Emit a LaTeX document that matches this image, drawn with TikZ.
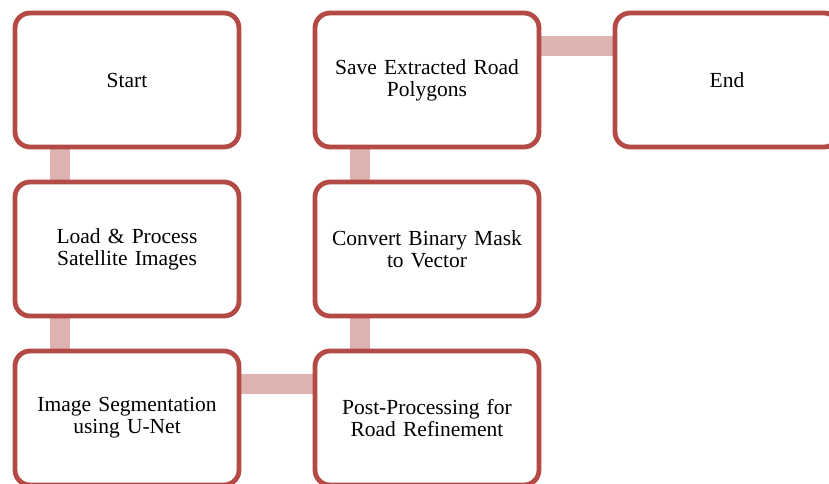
\documentclass[tikz,border=0pt]{standalone}
\usepackage{fontspec}
\setmainfont{Liberation Serif}
\usetikzlibrary{positioning, backgrounds}
\definecolor{boxred}{RGB}{180,74,69}
\definecolor{barpink}{RGB}{221,178,177}
\tikzset{node distance = 169pt and 300pt}
\tikzset{block/.style = {draw=boxred, line width=4.8pt, rounded corners=15pt, fill=white, minimum width=224pt, minimum height=134pt, text width=205pt, align=center, font=\fontsize{21.5pt}{22pt}\selectfont}}
\tikzset{link/.style = {draw=barpink, line width=20pt}}

\begin{document}
\begin{tikzpicture}[on grid]
			\useasboundingbox (-127pt,80pt) rectangle (702pt,-404pt);
			% Start
			\node [block] (start) {Start};
			% Load images
			\node [block, below= of start] (load) {Load \& Process\\Satellite Images};
			% Segmentation
			\node [block, below= of load] (seg) {Image Segmentation\\using U-Net};
			% Post-processing
			\node [block, right= of seg] (post) {Post-Processing for\\Road Refinement};
			% Vectorize
			\node [block, above= of post] (conv) {Convert Binary Mask\\to Vector};
			% Save polygons
			\node [block, above= of conv] (save) {Save Extracted Road\\Polygons};
			% End
			\node [block, right= of save] (end) {End};

			\begin{scope}[on background layer]
			\draw[link] ([xshift=-67pt]start.south) -- ([xshift=-67pt]load.north);
			\draw[link] ([xshift=-67pt]load.south) -- ([xshift=-67pt]seg.north);
			\draw[link] ([yshift=34pt]seg.east) -- ([yshift=34pt]post.west);
			\draw[link] ([xshift=-67pt]post.north) -- ([xshift=-67pt]conv.south);
			\draw[link] ([xshift=-67pt]conv.north) -- ([xshift=-67pt]save.south);
			\draw[link] ([yshift=34pt]save.east) -- ([yshift=34pt]end.west);
			\end{scope}
		\end{tikzpicture}
\end{document}
